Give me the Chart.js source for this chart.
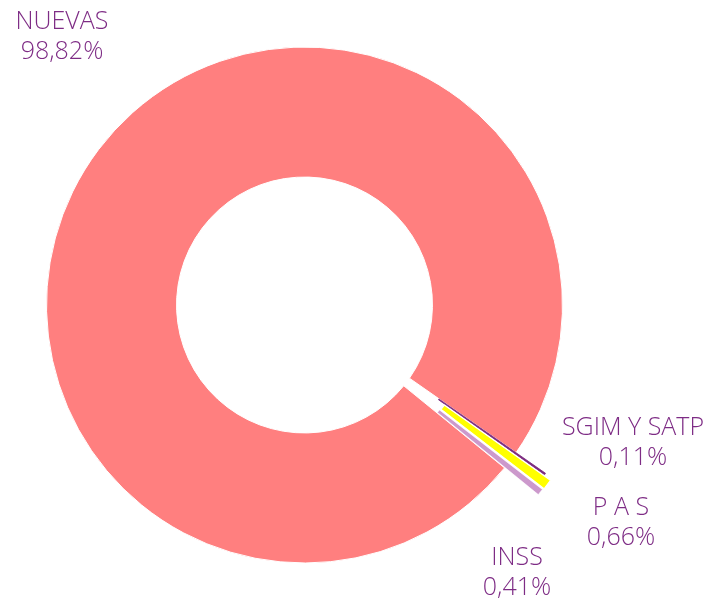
<!DOCTYPE html>
<html>
<head>
<meta charset="utf-8">
<script src="https://cdn.jsdelivr.net/npm/chart.js@4.4.0/dist/chart.umd.min.js"></script>
<style>
  html, body { margin: 0; padding: 0; background: #ffffff; }
  #wrap { position: relative; width: 711px; height: 605px; }
</style>
</head>
<body>
<div id="wrap"><canvas id="c"></canvas></div>
<script>
const categories = ['NUEVAS', 'SGIM Y SATP', 'P A S', 'INSS'];
const shareValues = [98.82, 0.11, 0.66, 0.41];
const sliceColors = ['#FF7F7F', '#7B2A7F', '#FFFF00', '#CC99CC'];

// styling: how far each slice is pulled out of the ring (px)
const explodeStyle = [0, 36, 44, 43];
const labelPlacement = [
  { x: 62, y: 29 },
  { x: 633, y: 435 },
  { x: 621, y: 515 },
  { x: 517, y: 565 }
];

const fmt = v => v.toFixed(2).replace('.', ',') + '%';

const explodePlugin = {
  id: 'explodeSlices',
  beforeDatasetsDraw(chart) {
    const meta = chart.getDatasetMeta(0);
    meta.data.forEach((arc, i) => {
      if (arc._explodeWrapped) return;
      const orig = arc.draw.bind(arc);
      arc.draw = function (ctx) {
        const d = explodeStyle[i] || 0;
        if (!d) { orig(ctx); return; }
        const mid = (this.startAngle + this.endAngle) / 2;
        ctx.save();
        ctx.translate(Math.cos(mid) * d, Math.sin(mid) * d);
        orig(ctx);
        ctx.restore();
      };
      arc._explodeWrapped = true;
    });
  }
};

const labelPlugin = {
  id: 'sliceLabels',
  afterDraw(chart) {
    const ctx = chart.ctx;
    ctx.save();
    ctx.fillStyle = '#7E2C85';
    ctx.font = '300 25px "Open Sans", Lato, sans-serif';
    ctx.textAlign = 'center';
    ctx.textBaseline = 'alphabetic';
    categories.forEach((name, i) => {
      const p = labelPlacement[i];
      ctx.fillText(name, p.x, p.y);
      ctx.fillText(fmt(shareValues[i]), p.x, p.y + 30);
    });
    ctx.restore();
  }
};

new Chart(document.getElementById('c'), {
  type: 'doughnut',
  data: {
    labels: categories,
    datasets: [{
      data: shareValues,
      backgroundColor: sliceColors,
      borderColor: ['#ffffff', '#7B2A7F', '#ffffff', '#ffffff'],
      borderWidth: [1, 0.8, 1.2, 0.6]
    }]
  },
  options: {
    responsive: true,
    maintainAspectRatio: false,
    animation: false,
    rotation: 129.15,
    cutout: '49.6%',
    radius: 258,
    layout: { padding: { left: 0, right: 102, top: 5, bottom: 0 } },
    plugins: {
      legend: { display: false },
      tooltip: { enabled: false }
    }
  },
  plugins: [explodePlugin, labelPlugin]
});
</script>
</body>
</html>
